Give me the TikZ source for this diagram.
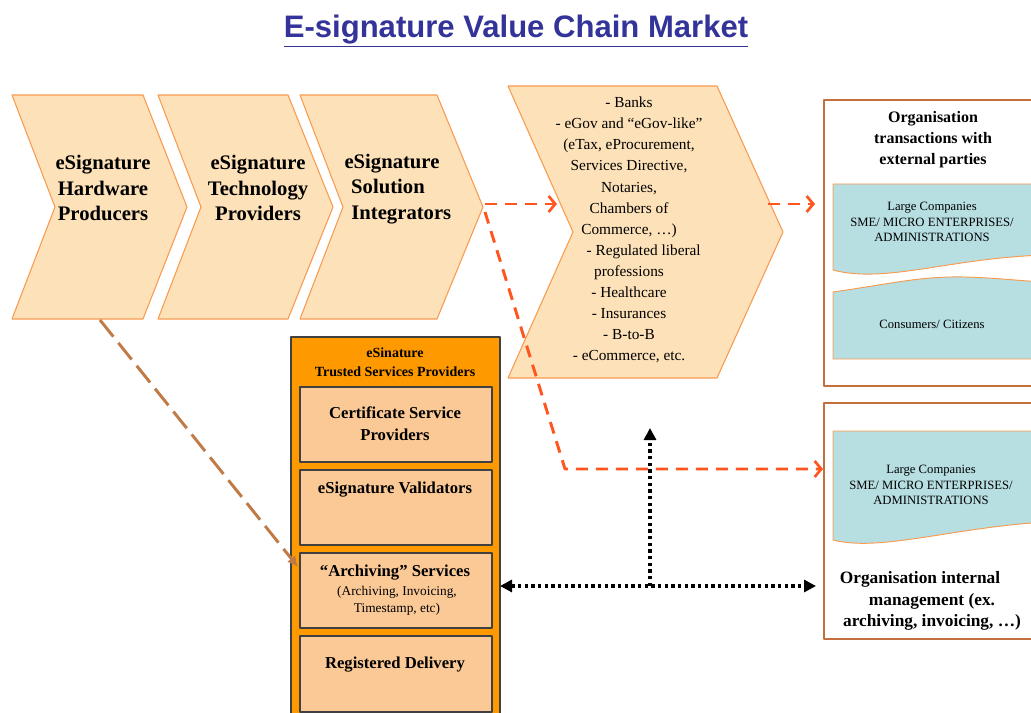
\documentclass[tikz,border=0pt]{standalone}
\usepackage{fontspec}
\setmainfont{Liberation Serif}
\newfontfamily\titlefont{Liberation Sans}
\usetikzlibrary{arrows.meta}
\definecolor{titleblue}{RGB}{51,51,153}
\definecolor{chevfill}{RGB}{253,225,184}
\definecolor{chevline}{RGB}{248,155,80}
\definecolor{tspfill}{RGB}{255,153,0}
\definecolor{tspin}{RGB}{251,201,150}
\definecolor{bluebox}{RGB}{183,222,225}
\definecolor{outline}{RGB}{196,112,62}
\definecolor{redarrow}{RGB}{255,85,30}
\definecolor{brownarrow}{RGB}{192,122,70}

\begin{document}
\begin{tikzpicture}[line cap=round,line join=round,x=0.75pt,y=-0.75pt,
    chev/.style={fill=chevfill,draw=chevline,line width=0.8pt},
    chevtext/.style={align=center,font=\bfseries\fontsize{15.5}{19}\selectfont},
    mkttext/.style={align=center,font=\fontsize{11.5}{15.8}\selectfont},
    outbox/.style={draw=outline,line width=2.2pt},
    wave/.style={fill=bluebox,draw=chevline,line width=0.7pt},
    smalltext/.style={align=center,font=\fontsize{9.5}{11.6}\selectfont},
    headtext/.style={align=center,font=\bfseries\fontsize{12}{15.8}\selectfont},
    tspbox/.style={fill=tspin,draw=black!75,line width=1pt},
    tsptext/.style={align=center,font=\bfseries\fontsize{12.5}{16.5}\selectfont},
    redline/.style={draw=redarrow,line width=2.2pt,line cap=butt,dash pattern=on 9pt off 6pt,
      -{Straight Barb[length=5pt,width=12pt,line width=2pt]}},
    dotline/.style={line width=3pt,line cap=butt,dash pattern=on 2.5pt off 2.5pt}]
\useasboundingbox (0,0) rectangle (1031,713);
\clip (0,0) rectangle (1031,713);
% title
\node (title) at (516,31) {\titlefont\bfseries\fontsize{23.3}{27}\selectfont\color{titleblue}\underline{E-signature Value Chain Market}};
% value chain
\draw[chev] (12,95) -- (143,95) -- (187,207) -- (143,319) -- (12,319) -- (55,207) -- cycle;
\draw[chev] (158,95) -- (288,95) -- (333,207) -- (288,319) -- (158,319) -- (201,207) -- cycle;
\draw[chev] (300,95) -- (437,95) -- (483,207) -- (437,319) -- (300,319) -- (343,207) -- cycle;
\draw[chev] (508,86) -- (717,86) -- (783,232) -- (717,378) -- (508,378) -- (573,232) -- cycle;
\node[chevtext] (hardware) at (103,188) {eSignature\\Hardware\\Producers};
\node[chevtext] (techno) at (258,188) {eSignature\\Technology\\Providers};
\node[chevtext] (integ) at (392,189) {eSignature\\\hspace*{-6pt}Solution\\\hspace*{14pt}Integrators};
\node[mkttext] (market) at (629,230) {- Banks\\- eGov and “eGov-like”\\(eTax, eProcurement,\\Services Directive,\\Notaries,\\Chambers of\\Commerce, \dots)\\\hspace*{22pt}- Regulated liberal\\professions\\- Healthcare\\- Insurances\\- B-to-B\\- eCommerce, etc.};
% external parties
\draw[outbox] (824,100) rectangle (1045,386);
\node[headtext] (external) at (933,140) {Organisation\\transactions with\\external parties};
\draw[wave] (833,184) -- (833,270) .. controls (885,284) and (950,258) .. (1045,255) -- (1045,184) -- cycle;
\draw[wave] (833,292) .. controls (890,284) and (920,276) .. (965,277) .. controls (1000,278) and (1020,281) .. (1045,282) -- (1045,359) -- (833,359) -- cycle;
\node[smalltext] (largeA) at (932,222) {Large Companies\\SME/ MICRO ENTERPRISES/\\ADMINISTRATIONS};
\node[smalltext] (consumers) at (932,324) {Consumers/ Citizens};
% internal management
\draw[outbox] (824,403) rectangle (1045,639);
\draw[wave] (833,431) -- (833,540) .. controls (880,552) and (950,528) .. (1045,522) -- (1045,431) -- cycle;
\node[smalltext] (largeB) at (931,485) {Large Companies\\SME/ MICRO ENTERPRISES/\\ADMINISTRATIONS};
\node[headtext,font=\bfseries\fontsize{13}{16.2}\selectfont] (internal) at (932,601) {Organisation internal\hspace*{18pt}\\management (ex.\\archiving, invoicing, \dots)};
% trusted services providers
\draw[fill=tspfill,draw=black!75,line width=1pt] (291,337) rectangle (500,720);
\node[align=center,font=\bfseries\fontsize{10.5}{14}\selectfont] (tsp) at (395,362) {eSinature\\Trusted Services Providers};
\draw[tspbox] (300,387) rectangle (492,462);
\draw[tspbox] (300,470) rectangle (492,545);
\draw[tspbox] (300,553) rectangle (492,628);
\draw[tspbox] (300,636) rectangle (492,712);
\node[tsptext] (csp) at (395,424) {Certificate Service\\Providers};
\node[tsptext] (valid) at (395,490) {eSignature Validators};
\node[tsptext] (arch) at (395,573) {“Archiving” Services};
\node[align=center,font=\fontsize{10}{12.8}\selectfont] (archsub) at (397,601) {(Archiving, Invoicing,\\Timestamp, etc)};
\node[tsptext] (deliv) at (395,665) {Registered Delivery};
% connectors
\coordinate (hwfoot) at (100,320);
\coordinate (archin) at (298,567);
\coordinate (integtip) at (485,204);
\coordinate (integlow) at (485,212);
\coordinate (mktin) at (557,204);
\coordinate (mktout) at (768,204);
\coordinate (extin) at (815,204);
\coordinate (bend) at (565,469);
\coordinate (intin) at (823,469);
\coordinate (dotL) at (500,586);
\coordinate (dotM) at (650,586);
\coordinate (dotR) at (816,586);
\coordinate (dotT) at (650,428);
\draw[draw=brownarrow,line width=2.2pt,line cap=butt,dash pattern=on 16pt off 6pt,-{Latex[length=8pt,width=8pt]}] (hwfoot) -- (archin);
\draw[redline] (integtip) -- (mktin);
\draw[redline] (mktout) -- (extin);
\draw[redline] (integlow) -- (bend) -- (intin);
\draw[dotline,{Triangle[length=9pt,width=9pt]}-{Triangle[length=9pt,width=9pt]}] (dotL) -- (dotR);
\draw[dotline,-{Triangle[length=9pt,width=9pt]}] (dotM) -- (dotT);
\end{tikzpicture}
\end{document}
